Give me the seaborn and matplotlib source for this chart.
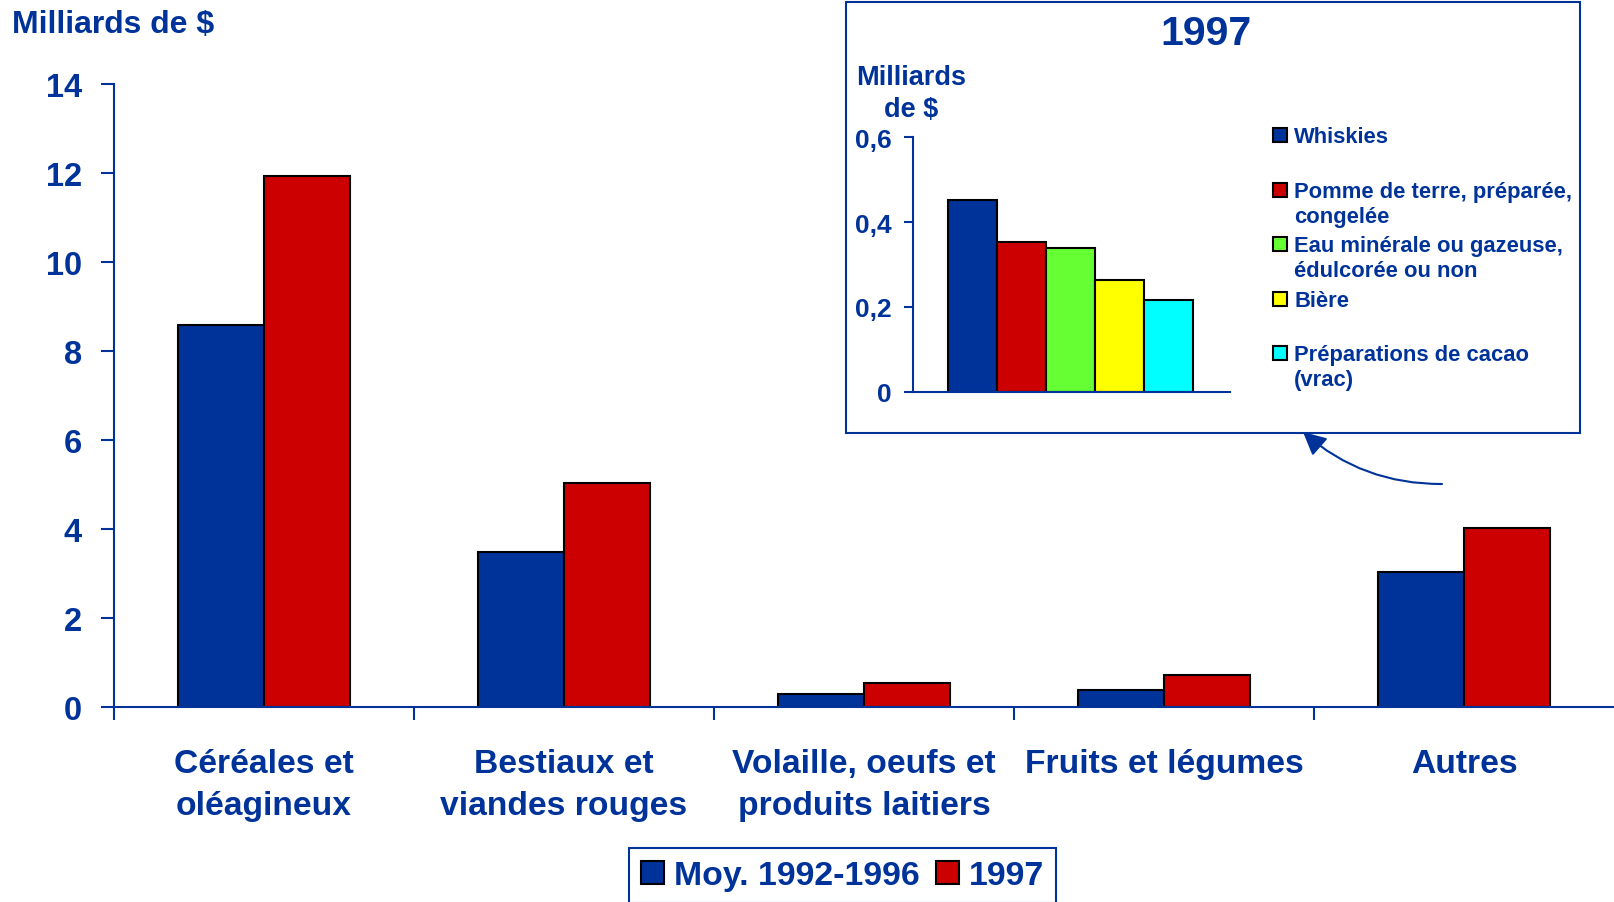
import pandas as pd
import seaborn as sns
import matplotlib.pyplot as plt
import matplotlib.patches as mpatches
from matplotlib.ticker import FixedLocator, FuncFormatter

# main chart data (milliards de $)
categories = ['Céréales et\noléagineux', 'Bestiaux et\nviandes rouges',
              'Volaille, oeufs et\nproduits laitiers', 'Fruits et légumes', 'Autres']
periods = ['Moy. 1992-1996', '1997']
avg_92_96 = [8.58, 3.49, 0.30, 0.39, 3.04]
val_1997 = [11.93, 5.04, 0.55, 0.71, 4.03]
main_ticks = [0, 2, 4, 6, 8, 10, 12, 14]

# inset: 1997 detail of "Autres"
products = ['Whiskies', 'Pomme de terre, préparée,\ncongelée',
            'Eau minérale ou gazeuse,\nédulcorée ou non', 'Bière',
            'Préparations de cacao\n(vrac)']
product_values = [0.453, 0.354, 0.340, 0.264, 0.217]
inset_ticks = [0, 0.2, 0.4, 0.6]

BLUE = '#003399'
RED = '#CC0000'
period_colors = [BLUE, RED]
product_colors = [BLUE, RED, '#66FF33', '#FFFF00', '#00FFFF']

W, H = 1614, 903


def fx(x):
    return x / W


def fy(y):
    return 1 - y / H


def main():
    sns.set_style('white')
    plt.rcParams['font.family'] = ['Liberation Sans', 'DejaVu Sans']
    plt.rcParams['font.weight'] = 'bold'

    df = pd.DataFrame({
        'categorie': categories * 2,
        'periode': [periods[0]] * 5 + [periods[1]] * 5,
        'valeur': avg_92_96 + val_1997,
    })

    fig = plt.figure(figsize=(W / 100, H / 100), dpi=100)

    # ---- main chart
    ax = fig.add_axes([fx(114), fy(708), (W - 114) / W, (708 - 85) / H])
    sns.barplot(data=df, x='categorie', y='valeur', hue='periode',
                palette=period_colors, saturation=1, width=0.575,
                edgecolor='black', linewidth=1.5, errorbar=None, ax=ax)
    if ax.get_legend() is not None:
        ax.get_legend().remove()
    ax.set_xlim(-0.5, 4.5)
    ax.set_ylim(0, 14)
    ax.set_yticks(main_ticks)
    ax.set_xticks(range(len(categories)))
    ax.set_xticklabels(categories, linespacing=1.45)
    ax.set_xlabel('')
    ax.set_ylabel('')
    ax.xaxis.set_minor_locator(FixedLocator([i - 0.5 for i in range(len(categories))]))
    for side in ['top', 'right']:
        ax.spines[side].set_visible(False)
    for side in ['left', 'bottom']:
        ax.spines[side].set_color(BLUE)
        ax.spines[side].set_linewidth(1.5)
    ax.tick_params(axis='y', left=True, length=9.4, width=1.5, color=BLUE,
                   labelcolor=BLUE, labelsize=23.5, pad=13.7)
    ax.tick_params(axis='x', which='major', bottom=True, length=0,
                   labelcolor=BLUE, labelsize=24.2, pad=29.5)
    ax.tick_params(axis='x', which='minor', bottom=True, length=9.4,
                   width=1.5, color=BLUE)

    fig.text(fx(12), fy(33), 'Milliards de $', color=BLUE, fontsize=23,
             ha='left', va='baseline')

    handles = [mpatches.Patch(facecolor=c, edgecolor='black', linewidth=1.5)
               for c in period_colors]
    leg = fig.legend(handles, periods, loc='upper left',
                     bbox_to_anchor=(fx(629), fy(849)), ncol=2, fontsize=24.4,
                     frameon=True, fancybox=False, edgecolor=BLUE, framealpha=1,
                     borderaxespad=0, handlelength=0.66, handleheight=0.66,
                     handletextpad=0.3, columnspacing=0.5, borderpad=0.36,
                     labelcolor=BLUE)
    leg.get_frame().set_linewidth(1.5)

    # ---- inset
    fig.add_artist(mpatches.Rectangle((fx(846), fy(434)), (1580 - 846) / W,
                                      (434 - 3) / H, transform=fig.transFigure,
                                      fill=False, edgecolor=BLUE, linewidth=1.5))

    axin = fig.add_axes([fx(913), fy(392.7), (1230 - 913) / W, (392.7 - 138.3) / H])
    sns.barplot(x=products, y=product_values, hue=products,
                palette=product_colors, saturation=1, width=1, legend=False,
                edgecolor='black', linewidth=1.5, errorbar=None, ax=axin)
    axin.set_xlim(-0.5 - 35 / 49, 4.5 + 37 / 49)
    axin.set_ylim(0, 0.6)
    axin.set_yticks(inset_ticks)
    axin.yaxis.set_major_formatter(FuncFormatter(
        lambda v, p: '0' if v == 0 else f'{v:.1f}'.replace('.', ',')))
    axin.set_xticks([])
    axin.set_xlabel('')
    axin.set_ylabel('')
    axin.patch.set_alpha(0)
    for side in ['top', 'right']:
        axin.spines[side].set_visible(False)
    for side in ['left', 'bottom']:
        axin.spines[side].set_color(BLUE)
        axin.spines[side].set_linewidth(1.5)
    axin.tick_params(axis='y', left=True, length=6.5, width=1.5, color=BLUE,
                     labelcolor=BLUE, labelsize=19, pad=8.6)

    fig.text(fx(1206), fy(45), '1997', color=BLUE, fontsize=29.5,
             ha='center', va='baseline')
    fig.text(fx(911.5), fy(85), 'Milliards', color=BLUE, fontsize=19.5,
             ha='center', va='baseline')
    fig.text(fx(911.5), fy(117), 'de $', color=BLUE, fontsize=19.5,
             ha='center', va='baseline')

    for i, (label, color) in enumerate(zip(products, product_colors)):
        base = 143.3 + i * 54.5
        fig.add_artist(mpatches.Rectangle((fx(1273), fy(base)), 14 / W, 14 / H,
                                          transform=fig.transFigure,
                                          facecolor=color, edgecolor='black',
                                          linewidth=1.5))
        for j, line in enumerate(label.split('\n')):
            fig.text(fx(1294), fy(base + j * 25), line, color=BLUE,
                     fontsize=15.8, ha='left', va='baseline')

    # curved arrow from "Autres" up to the inset
    fig.add_artist(mpatches.FancyArrowPatch(
        posA=(fx(1442), fy(485)), posB=(fx(1303), fy(433)),
        transform=fig.transFigure, connectionstyle='arc3,rad=-0.19',
        arrowstyle='-|>,head_length=0.7,head_width=0.35', mutation_scale=20,
        color=BLUE, linewidth=1.5, shrinkA=0, shrinkB=0))

    fig.savefig('out.png', dpi=100)


if __name__ == '__main__':
    main()
